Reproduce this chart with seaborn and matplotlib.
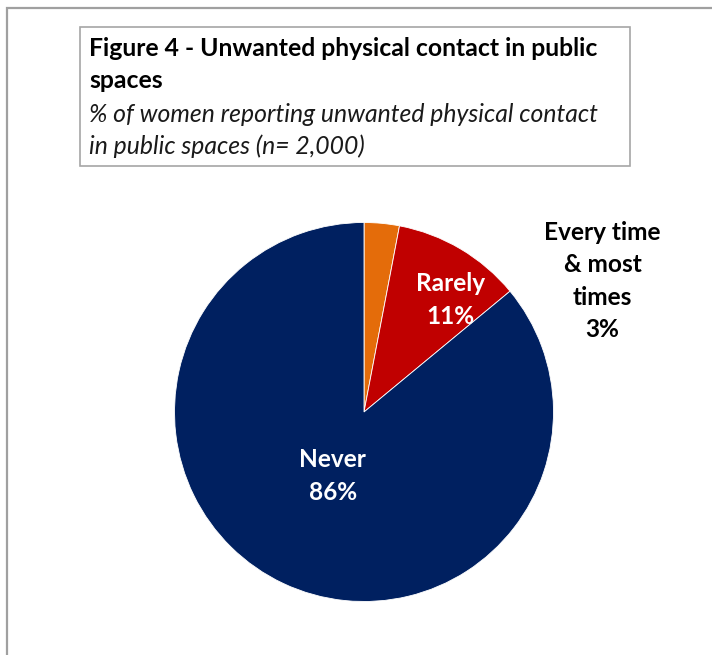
import matplotlib
matplotlib.use("Agg")
import matplotlib.pyplot as plt
import seaborn as sns
from matplotlib.patches import Rectangle

# Data
categories = ["Every time & most times", "Rarely", "Never"]
values = [3, 11, 86]
label_texts = ["Every time\n& most\ntimes\n3%", "Rarely\n11%", "Never\n86%"]
colors = ["#E46C0A", "#C00000", "#002060"]
title_lines = ["Figure 4 - Unwanted physical contact in public", "spaces"]
subtitle_lines = ["% of women reporting unwanted physical contact", "in public spaces (n= 2,000)"]

sns.set_theme(style="white")
plt.rcParams['font.family'] = ['Lato', 'DejaVu Sans']

W, H = 712, 655
fig = plt.figure(figsize=(W / 100, H / 100), dpi=100)
fig.patch.set_facecolor("white")

def fx(px):
    return px / W

def fy(py):
    return 1 - py / H

# Outer frame (extends past right and bottom edges)
fig.add_artist(Rectangle((fx(7), fy(720)), fx(760), (720 - 7.5) / H,
                         transform=fig.transFigure, fill=False,
                         edgecolor="#A0A0A0", linewidth=1.6, clip_on=False))

# Title box
fig.add_artist(Rectangle((fx(80), fy(166)), fx(630 - 80), (166 - 27) / H,
                         transform=fig.transFigure, fill=False,
                         edgecolor="#A6A6A6", linewidth=1.2))

fs = 17.8
fig.text(fx(89), fy(48), title_lines[0], fontsize=fs, fontweight="bold",
         va="center", ha="left", color="black")
fig.text(fx(89), fy(81), title_lines[1], fontsize=fs, fontweight="bold",
         va="center", ha="left", color="black")
fig.text(fx(89), fy(114), subtitle_lines[0], fontsize=fs, fontstyle="italic",
         va="center", ha="left", color="#1a1a1a")
fig.text(fx(89), fy(146), subtitle_lines[1], fontsize=fs, fontstyle="italic",
         va="center", ha="left", color="#1a1a1a")

# Pie
cx, cy, r = 364, 412, 189.5
ax = fig.add_axes([fx(cx - r), fy(cy + r), 2 * r / W, 2 * r / H])
wedges, _ = ax.pie(values, colors=colors, startangle=90, counterclock=False,
                   radius=1, wedgeprops=dict(linewidth=0.6, edgecolor="white"))
ax.set_xlim(-1, 1)
ax.set_ylim(-1, 1)
ax.set_aspect("auto")
ax.axis("off")

label_pos = [(1.259, 0.69), (0.455, 0.59), (-0.164, -0.339)]
label_colors = ["black", "white", "white"]
for txt, (lx, ly), c in zip(label_texts, label_pos, label_colors):
    ax.text(lx, ly, txt, ha="center", va="center", fontsize=17.6,
            fontweight="bold", color=c, linespacing=1.5, clip_on=False)

fig.savefig("out.png", dpi=100, facecolor="white")
